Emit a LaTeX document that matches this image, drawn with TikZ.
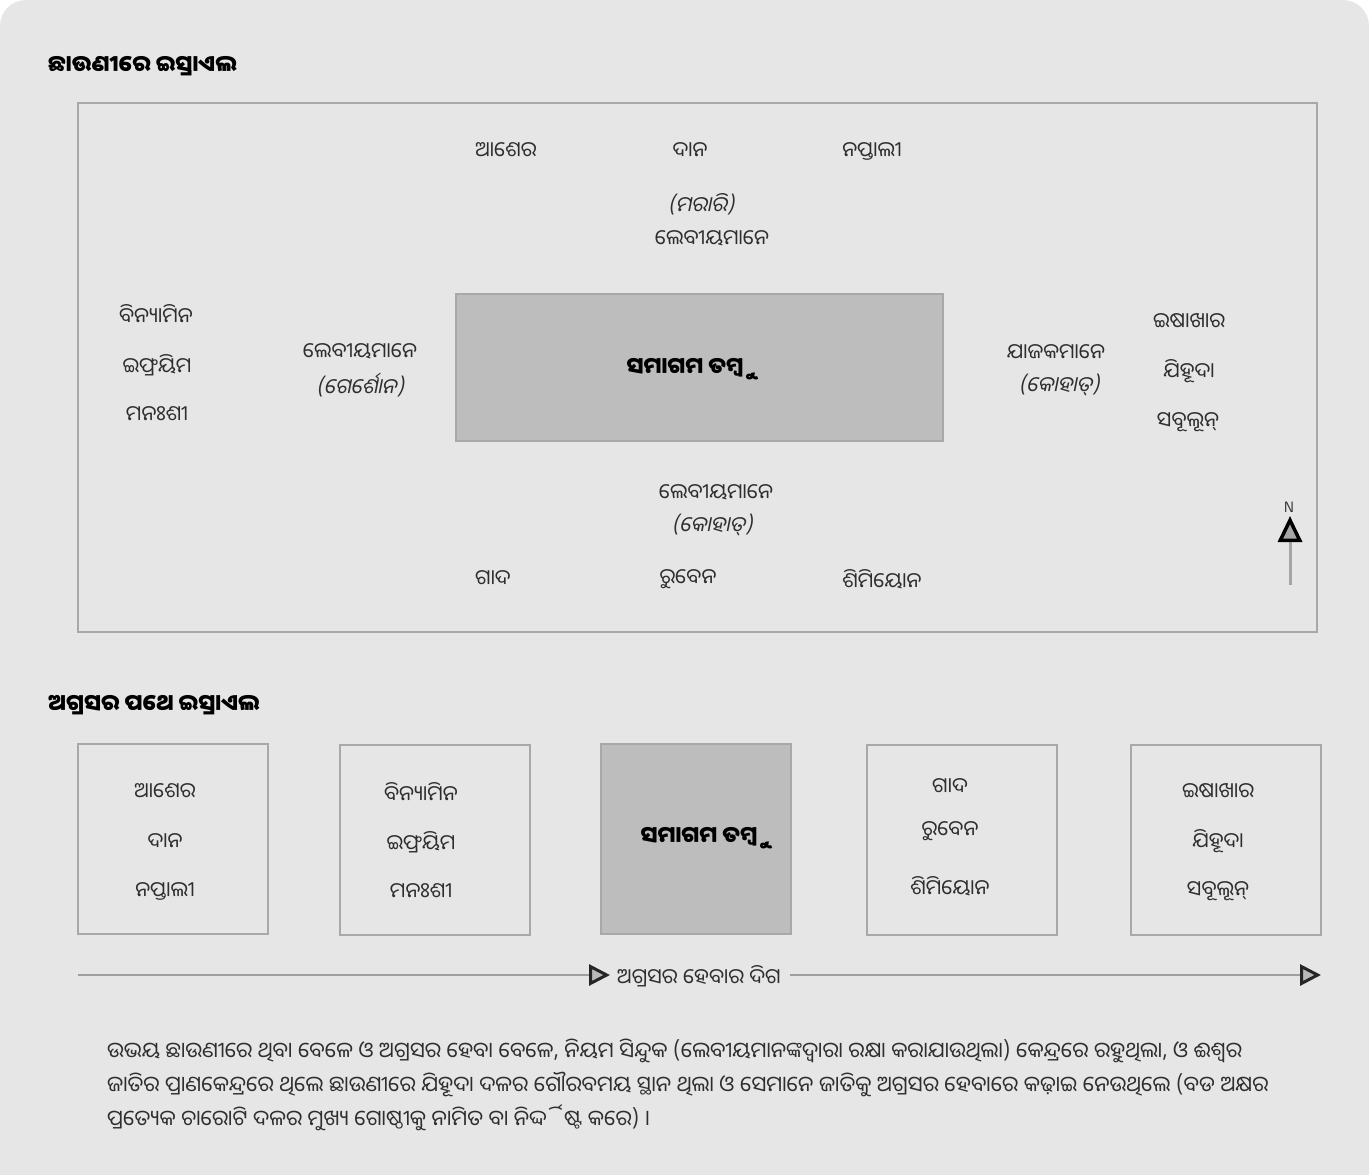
\documentclass[tikz,border=0pt]{standalone}
\usepackage{fontspec}
\newfontfamily\oriya[Script=Oriya]{Noto Sans Oriya UI}
\newfontfamily\oriyait[Script=Oriya,FakeSlant=0.2]{Noto Sans Oriya UI}
\usetikzlibrary{arrows.meta}
\definecolor{pagegrey}{HTML}{E6E6E6}
\definecolor{framegrey}{HTML}{A8A8A8}
\definecolor{tentgrey}{HTML}{BDBDBD}
\definecolor{inkgrey}{HTML}{2E2E2E}
\tikzset{ t/.style = { inner sep = 0pt % tribe name
        , text = inkgrey
        , font = \oriya\fontsize{21}{25}\selectfont
        }
        , lv/.style = { t % levite clan, slanted
        , font = \oriyait\fontsize{21}{25}\selectfont
        }
        , hd/.style = { inner sep = 0pt % heading
        , anchor = west
        , text = black
        , font = \oriya\bfseries\fontsize{22.5}{27}\selectfont
        }
        , frame/.style = { draw = framegrey % camp frame
        , line width = 2pt
        }
        , box/.style = { rectangle % march box
        , draw = framegrey
        , line width = 2pt
        , minimum width = 190pt
        , minimum height = 190pt
        }
        , tent/.style = { box % tent of meeting
        , fill = tentgrey
        , text = black
        , font = \oriya\bfseries\fontsize{22.5}{27}\selectfont
        }
        }

\begin{document}
\begin{tikzpicture}[x=1pt, y=-1pt,
        dir_style/.style={draw=gray!75, line width=1.5pt,
            -{Triangle[length=21pt, width=21pt, line width=3pt, color=black!85, fill=gray!55]}},
        north_style/.style={draw=gray!70, line width=3pt,
            -{Triangle[length=26pt, width=24pt, line width=3.5pt, color=black, fill=gray!70]}}]
        \useasboundingbox (0,0) rectangle (1369,1175);
        \fill [pagegrey, rounded corners=26pt] (0,0) rectangle (1369,1215);

        % camp
        \node [hd] (camp) at (48,66) {ଛାଉଣୀରେ ଇସ୍ରାଏଲ};
        \draw [frame] (78,103) rectangle (1317,632);
        \node [tent, minimum width=487pt, minimum height=147pt] (tent) at (699.5,367.5) {};
        \node [tent, draw=none, fill=none, minimum size=0pt, inner sep=0pt] (tentname) at (685,369) {ସମାଗମ ତମ୍ବୁ};

        \node [t] (asher) at (506,151) {ଆଶେର};
        \node [t] (dan) at (690,151) {ଦାନ};
        \node [t] (naphtali) at (872,151) {ନପ୍ତାଲୀ};
        \node [lv] (merari) at (701,204) {(ମରାରି)};
        \node [t] (levn) at (712,239) {ଲେବୀୟମାନେ};

        \node [t] (benjamin) at (156,315) {ବିନ୍ୟାମିନ};
        \node [t] (ephraim) at (157,365) {ଇଫ୍ରୟିମ};
        \node [t] (manasseh) at (157,415) {ମନଃଶୀ};
        \node [t] (levw) at (360,352) {ଲେବୀୟମାନେ};
        \node [lv] (gershon) at (360,385) {(ଗେର୍ଶୋନ)};

        \node [t] (priests) at (1056,353) {ଯାଜକମାନେ};
        \node [lv] (kohathe) at (1059,385) {(କୋହାତ୍)};
        \node [t] (issachar) at (1189,322) {ଇଷାଖାର};
        \node [t] (judah) at (1189,371) {ଯିହୂଦା};
        \node [t] (zebulun) at (1188,422) {ସବୂଲୂନ୍};

        \node [t] (levs) at (716,493) {ଲେବୀୟମାନେ};
        \node [lv] (kohaths) at (712,525) {(କୋହାତ୍)};
        \node [t] (gad) at (493,579) {ଗାଦ};
        \node [t] (reuben) at (688,579) {ରୁବେନ};
        \node [t] (simeon) at (882,579) {ଶିମିୟୋନ};

        \node [inner sep=0pt, text=inkgrey, font=\sffamily\fontsize{15}{17}\selectfont] (north) at (1289,507) {N};
        \coordinate (ntail) at (1290,585);
        \coordinate (nhead) at (1290,516);
        \draw [north_style] (ntail) -- (nhead);

        % march
        \node [hd] (march) at (48,705) {ଅଗ୍ରସର ପଥେ ଇସ୍ରାଏଲ};
        \node [box] (b1) at (172.5,838.5) {};
        \node [box] (b2) at (434.5,840) {};
        \node [tent] (b3) at (696,838.5) {\hspace*{6pt}ସମାଗମ ତମ୍ବୁ};
        \node [box] (b4) at (962,840) {};
        \node [box] (b5) at (1225.5,840) {};

        \node [t] (m1a) at (165,792) {ଆଶେର};
        \node [t] (m1b) at (165,842) {ଦାନ};
        \node [t] (m1c) at (165,891) {ନପ୍ତାଲୀ};
        \node [t] (m2a) at (421,792) {ବିନ୍ୟାମିନ};
        \node [t] (m2b) at (421,842) {ଇଫ୍ରୟିମ};
        \node [t] (m2c) at (421,892) {ମନଃଶୀ};
        \node [t] (m4a) at (950,787) {ଗାଦ};
        \node [t] (m4b) at (950,831) {ରୁବେନ};
        \node [t] (m4c) at (950,886) {ଶିମିୟୋନ};
        \node [t] (m5a) at (1218,792) {ଇଷାଖାର};
        \node [t] (m5b) at (1218,841) {ଯିହୂଦା};
        \node [t] (m5c) at (1218,891) {ସବୂଲୂନ୍};

        \coordinate (dstart) at (78,975);
        \coordinate (dend) at (1321,975);
        \node [t] (dir) at (699,976) {ଅଗ୍ରସର ହେବାର ଦିଗ};
        \draw [dir_style] (dstart) -- ([xshift=-7pt]dir.west |- dstart);
        \draw [dir_style] ([xshift=9pt]dir.east |- dstart) -- (dend);

        % note
        \node [inner sep=0pt, anchor=north west, align=left, text=inkgrey,
            font=\oriya\fontsize{21.5}{33.7}\selectfont] (note) at (107,1039)
            {ଉଭୟ ଛାଉଣୀରେ ଥିବା ବେଳେ ଓ ଅଗ୍ରସର ହେବା ବେଳେ, ନିୟମ ସିନ୍ଦୁକ (ଲେବୀୟମାନଙ୍କଦ୍ୱାରା ରକ୍ଷା କରାଯାଉଥିଲା) କେନ୍ଦ୍ରରେ ରହୁଥିଲା, ଓ ଈଶ୍ୱର\\
             ଜାତିର ପ୍ରାଣକେନ୍ଦ୍ରରେ ଥିଲେ ଛାଉଣୀରେ ଯିହୂଦା ଦଳର ଗୌରବମୟ ସ୍ଥାନ ଥିଲା ଓ ସେମାନେ ଜାତିକୁ ଅଗ୍ରସର ହେବାରେ କଢ଼ାଇ ନେଉଥିଲେ (ବଡ ଅକ୍ଷର\\
             ପ୍ରତ୍ୟେକ ଚାରୋଟି ଦଳର ମୁଖ୍ୟ ଗୋଷ୍ଠୀକୁ ନାମିତ ବା ନିର୍ଦ୍ଦିଷ୍ଟ କରେ) ।};
\end{tikzpicture}
\end{document}
